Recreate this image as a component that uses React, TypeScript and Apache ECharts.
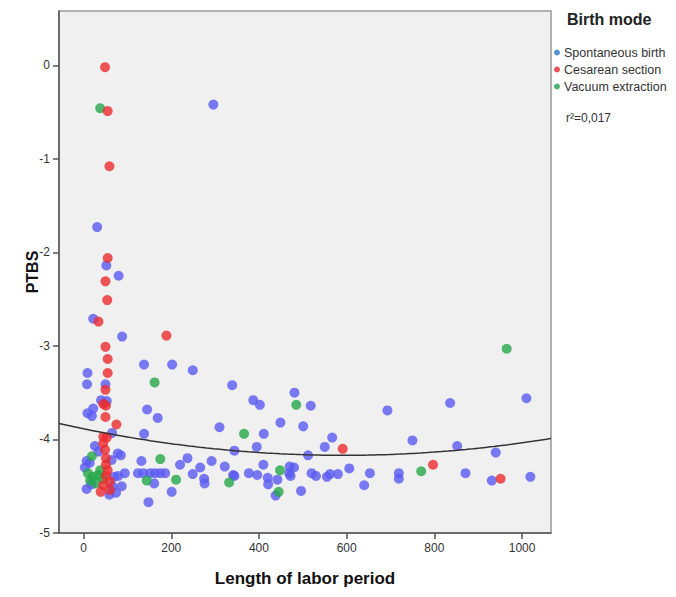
import React, { useEffect, useRef } from "react";
import * as echarts from "echarts";

const xTicks = [0, 200, 400, 600, 800, 1000];
const yTicks = [-5, -4, -3, -2, -1, 0];
const xRange = [-56, 1066];
const yRange = [-5, 0.58];

const seriesNames = ["Spontaneous birth", "Cesarean section", "Vacuum extraction"];

const spontaneous: [number, number][] = [
  [296, -0.42], [31, -1.73], [52, -2.14], [80, -2.25], [22, -2.71], [88, -2.9],
  [138, -3.2], [202, -3.2], [249, -3.26], [9, -3.29], [8, -3.41], [50, -3.41],
  [339, -3.42], [40, -3.58], [53, -3.59], [22, -3.67], [9, -3.72], [19, -3.75],
  [145, -3.68], [169, -3.77], [310, -3.87], [138, -3.94], [65, -3.93], [26, -4.07],
  [344, -4.12], [7, -4.23], [78, -4.15], [85, -4.17], [132, -4.23], [237, -4.2],
  [292, -4.23], [322, -4.29], [220, -4.27], [266, -4.3], [3, -4.3], [344, -4.39],
  [124, -4.36], [136, -4.36], [152, -4.36], [163, -4.36], [175, -4.36], [186, -4.36],
  [94, -4.36], [79, -4.39], [161, -4.47], [249, -4.37], [275, -4.42], [276, -4.47],
  [7, -4.53], [59, -4.59], [74, -4.57], [87, -4.5], [201, -4.56], [148, -4.67],
  [387, -3.58], [402, -3.63], [481, -3.5], [518, -3.64], [693, -3.69], [411, -3.94],
  [449, -3.82], [501, -3.86], [567, -3.98], [550, -4.08], [750, -4.01], [395, -4.08],
  [512, -4.17], [410, -4.27], [470, -4.29], [480, -4.3], [606, -4.31], [341, -4.38],
  [377, -4.36], [396, -4.38], [420, -4.41], [421, -4.48], [442, -4.43], [438, -4.6],
  [469, -4.36], [472, -4.39], [496, -4.55], [520, -4.36], [530, -4.39], [555, -4.4],
  [562, -4.37], [580, -4.37], [640, -4.49], [653, -4.36], [719, -4.36], [719, -4.42],
  [836, -3.61], [1010, -3.56], [852, -4.07], [940, -4.14], [871, -4.36], [931, -4.44],
  [1019, -4.4], [14, -4.25], [34, -4.13], [64, -4.22], [70, -4.4], [66, -4.5], [18, -4.48],
];

const cesarean: [number, number][] = [
  [49, -0.02], [55, -0.49], [59, -1.08], [55, -2.06], [50, -2.31], [54, -2.51],
  [34, -2.74], [189, -2.89], [50, -3.01], [55, -3.14], [55, -3.29], [50, -3.47],
  [45, -3.62], [51, -3.64], [50, -3.76], [75, -3.84], [45, -3.97], [53, -3.98],
  [45, -4.04], [49, -4.11], [51, -4.2], [51, -4.27], [55, -4.33], [51, -4.39],
  [60, -4.45], [45, -4.49], [39, -4.56], [60, -4.54], [591, -4.1], [797, -4.27],
  [951, -4.42],
];

const vacuum: [number, number][] = [
  [38, -0.46], [162, -3.39], [19, -4.18], [175, -4.21], [10, -4.36], [21, -4.4],
  [33, -4.38], [44, -4.42], [15, -4.44], [28, -4.47], [38, -4.33], [144, -4.44],
  [211, -4.43], [332, -4.46], [366, -3.94], [485, -3.63], [448, -4.33], [445, -4.56],
  [770, -4.34], [965, -3.03],
];

// Quadratic fit line: y = a + b x + c x^2
const fitA = -3.886;
const fitB = -9.57e-4;
const fitC = 8.07e-7;
const fitLabel = "r²=0,017";

const pointColors = ["#5a5af2", "#ec2a2e", "#24a84a"];
const legendColors = ["#2a78c8", "#e8282c", "#20a050"];

export default function App() {
  const ref = useRef<HTMLDivElement>(null);
  useEffect(() => {
    if (!ref.current) return;
    const chart = echarts.init(ref.current, undefined, { renderer: "svg" });
    const fitData: [number, number][] = [];
    for (let x = xRange[0]; x <= xRange[1]; x += 8) {
      fitData.push([x, fitA + fitB * x + fitC * x * x]);
    }
    fitData.push([xRange[1], fitA + fitB * xRange[1] + fitC * xRange[1] * xRange[1]]);
    const font = "Arial, 'Liberation Sans', sans-serif";
    const axisCommon = {
      type: "value" as const,
      splitLine: { show: false },
      axisLine: { show: true, onZero: false, lineStyle: { color: "#555", width: 1.5 } },
    };
    chart.setOption({
      animation: false,
      backgroundColor: "#fff",
      textStyle: { fontFamily: font },
      title: {
        text: "Birth mode",
        left: 562,
        top: 6,
        textStyle: { fontSize: 16, fontWeight: "bold", color: "#222", fontFamily: font },
      },
      legend: {
        orient: "vertical",
        left: 554,
        top: 46,
        itemWidth: 6,
        itemHeight: 6,
        itemGap: 4,
        icon: "circle",
        padding: 0,
        textStyle: { fontSize: 12.5, color: "#333", fontFamily: font, padding: [0, 0, 0, -1] },
        data: seriesNames.map((n, i) => ({ name: n, itemStyle: { color: legendColors[i] } })),
      },
      graphic: [
        {
          type: "text",
          left: 566,
          top: 112,
          style: { text: fitLabel, fontSize: 12, fill: "#333", fontFamily: font },
        },
      ],
      grid: {
        left: 59,
        right: 125,
        top: 11,
        bottom: 64,
        show: true,
        backgroundColor: "#f0f0f0",
        borderColor: "#999",
        borderWidth: 1.5,
      },
      xAxis: {
        ...axisCommon,
        min: xRange[0],
        max: xRange[1],
        name: "Length of labor period",
        nameLocation: "middle",
        nameGap: 37,
        nameMoveOverlap: false,
        nameTextStyle: { fontSize: 17, fontWeight: "bold", color: "#111", fontFamily: font },
        axisTick: { show: true, length: 6, customValues: xTicks, lineStyle: { color: "#555", width: 1.5 } },
        axisLabel: {
          customValues: xTicks,
          margin: 9,
          fontSize: 12,
          color: "#333",
          fontFamily: font,
          formatter: (v: number) => String(v),
        },
      },
      yAxis: {
        ...axisCommon,
        min: yRange[0],
        max: yRange[1],
        name: "PTBS",
        nameLocation: "middle",
        nameGap: 19,
        nameRotate: 90,
        nameMoveOverlap: false,
        nameTextStyle: { fontSize: 16, fontWeight: "bold", color: "#111", fontFamily: font },
        axisTick: { show: true, length: 6, customValues: yTicks, lineStyle: { color: "#555", width: 1.5 } },
        axisLabel: {
          customValues: yTicks,
          margin: 9,
          fontSize: 12,
          color: "#333",
          fontFamily: font,
          formatter: (v: number) => String(v),
        },
      },
      series: [
        {
          name: seriesNames[0],
          type: "scatter",
          data: spontaneous,
          symbolSize: 10,
          itemStyle: { color: pointColors[0] },
          z: 2,
        },
        {
          name: seriesNames[2],
          type: "scatter",
          data: vacuum,
          symbolSize: 10,
          itemStyle: { color: pointColors[2] },
          z: 3,
        },
        {
          name: seriesNames[1],
          type: "scatter",
          data: cesarean,
          symbolSize: 10,
          itemStyle: { color: pointColors[1] },
          z: 4,
        },
        {
          name: "fit",
          type: "line",
          data: fitData,
          showSymbol: false,
          silent: true,
          lineStyle: { color: "#333", width: 1.5 },
          z: 5,
        },
      ],
    });
    return () => chart.dispose();
  }, []);
  return (
    <div
      ref={ref}
      style={{ position: "fixed", left: 0, top: 0, width: 676, height: 597 }}
    />
  );
}
